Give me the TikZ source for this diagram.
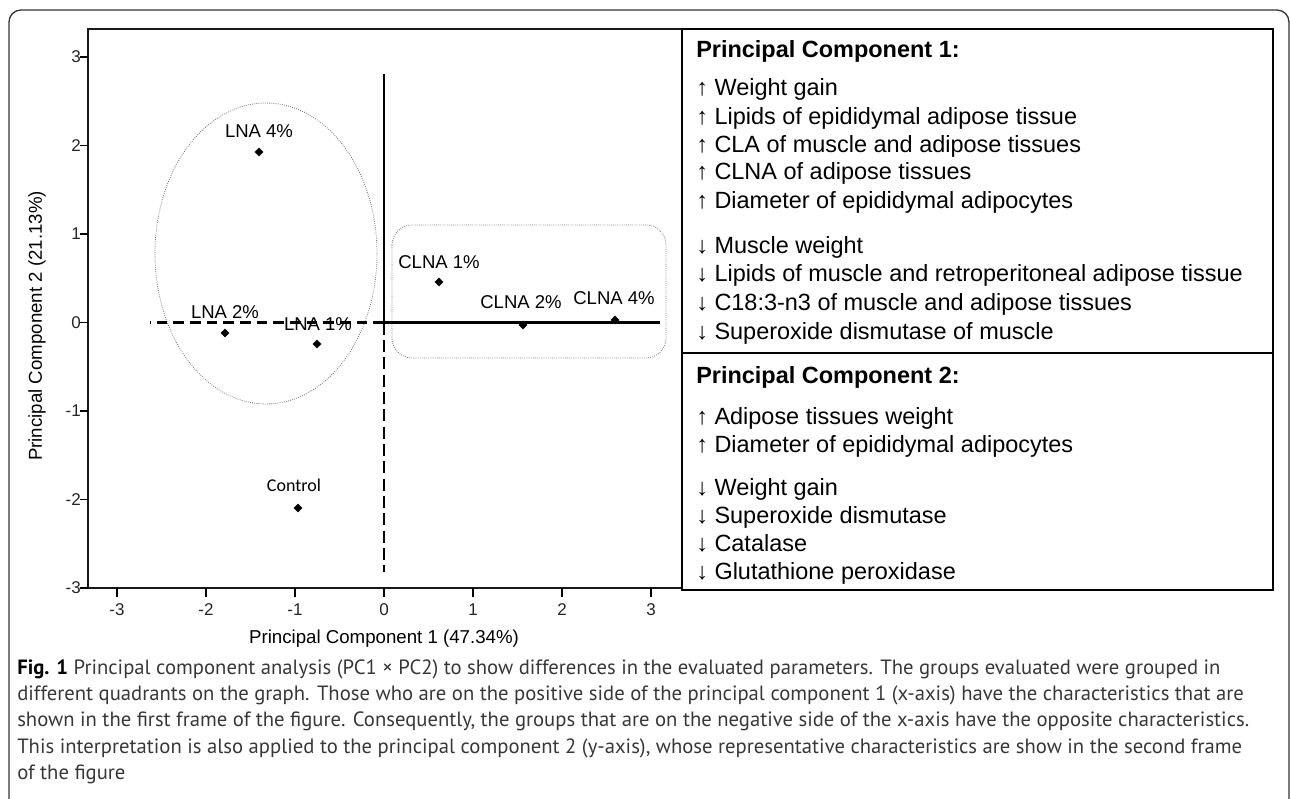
\documentclass[tikz,border=0pt]{standalone}
\usepackage{fontspec}
\setmainfont{Liberation Sans}
\newfontfamily\capfont{PT Sans}
\newfontfamily\ctrlfont{Carlito}
\usetikzlibrary{shapes.geometric}

\begin{document}
\begin{tikzpicture}[x=0.75pt,y=0.75pt,yscale=-1,xscale=1,
  pt/.style={diamond,fill=black,inner sep=0pt,minimum size=6.8pt},
  lbl/.style={inner sep=0pt,font=\fontsize{13.9}{15}\selectfont},
  ticklbl/.style={inner sep=0pt,text=black!85,font=\fontsize{12.75}{14}\selectfont},
  axtitle/.style={inner sep=0pt,font=\fontsize{14}{16}\selectfont},
  item/.style={anchor=base west,inner sep=0pt,font=\fontsize{17.6}{20}\selectfont},
  head/.style={anchor=base west,inner sep=0pt,font=\fontsize{17.6}{20}\selectfont\bfseries},
  capline/.style={anchor=base west,inner sep=0pt,text=black!78,font=\capfont\fontsize{15.5}{18}\selectfont},
  group/.style={draw=black!55,densely dotted,line width=0.6pt},
  crossline/.style={line width=1.8pt}]
\useasboundingbox (0,0) rectangle (1290,799);

%Shape: Outer frame
\draw [color=black!80, line width=1pt] (9,805) -- (9,22) arc (180:270:12) -- (1277,10) arc (270:360:12) -- (1289,805);

%Shape: Plot frame
\draw [line width=1.5pt, color=black!90] (88,29) rectangle (682,588);
%Shape: Legend box
\draw [line width=1.9pt] (682,29) rectangle (1273,590);
\draw [line width=1.9pt] (682,353) -- (1273,353);

% Ticks
\foreach \v in {-3,...,3} {
  \draw [line width=1pt] (80,322.5-88.5*\v) -- (88,322.5-88.5*\v);
  \node [ticklbl, anchor=east] at (81,322.5-88.5*\v) {\v};
  \draw [line width=1pt] (384+89*\v,588) -- (384+89*\v,597);
  \node [ticklbl] at (384+89*\v,610) {\v};
}

% Axis titles
\node [axtitle] (xtitle) at (384,639) {Principal Component 1 (47.34\%)};
\node [axtitle, rotate=90] (ytitle) at (37,326) {Principal Component 2 (21.13\%)};

%Shape: Groups
\draw [group] (266,253.5) ellipse (111 and 150.5);
\draw [group, rounded corners=15pt] (392,225) rectangle (666,358);

% Text Node
\node [lbl] (lna4l) at (259,131) {LNA 4\%};
\node [lbl] (lna2l) at (225,312) {LNA 2\%};
\node [lbl] (lna1l) at (318,324) {LNA 1\%};
\node [lbl, font=\ctrlfont\fontsize{13.5}{15}\selectfont] (ctrll) at (294,485) {Control};
\node [lbl] (clna1l) at (439,262) {CLNA 1\%};
\node [lbl] (clna2l) at (521,302) {CLNA 2\%};
\node [lbl] (clna4l) at (614,298) {CLNA 4\%};

%Straight Lines: origin cross
\coordinate (O) at (384,322.5);
\coordinate (yTop) at (384,74);
\coordinate (yBot) at (384,572);
\coordinate (xLeft) at (150,322.5);
\coordinate (xRight) at (660,322.5);
\draw [crossline] (yTop) -- (O) -- (xRight);
\draw [crossline, dash pattern=on 8pt off 4.5pt] (O) -- (xLeft);
\draw [crossline, dash pattern=on 9pt off 4pt] (O) -- (yBot);

%Shape: Points
\node [pt] (lna4) at (259,152) {};
\node [pt] (lna2) at (225,333) {};
\node [pt] (lna1) at (317,344) {};
\node [pt] (ctrl) at (298,508) {};
\node [pt] (clna1) at (439,282) {};
\node [pt] (clna2) at (523,325) {};
\node [pt] (clna4) at (615,320) {};

% Text Node: component 1
\node [head] (pc1) at (696,58) {Principal Component 1:};
\node [item] (pc1a) at (696,96) {↑ Weight gain};
\node [item] (pc1b) at (696,124) {↑ Lipids of epididymal adipose tissue};
\node [item] (pc1c) at (696,152) {↑ CLA of muscle and adipose tissues};
\node [item] (pc1d) at (696,180) {↑ CLNA of adipose tissues};
\node [item] (pc1e) at (696,208) {↑ Diameter of epididymal adipocytes};
\node [item] (pc1f) at (696,253) {↓ Muscle weight};
\node [item] (pc1g) at (696,281) {↓ Lipids of muscle and retroperitoneal adipose tissue};
\node [item] (pc1h) at (696,310) {↓ C18:3-n3 of muscle and adipose tissues};
\node [item] (pc1i) at (696,339) {↓ Superoxide dismutase of muscle};
% Text Node: component 2
\node [head] (pc2) at (696,383) {Principal Component 2:};
\node [item] (pc2a) at (696,424) {↑ Adipose tissues weight};
\node [item] (pc2b) at (696,452) {↑ Diameter of epididymal adipocytes};
\node [item] (pc2c) at (696,495) {↓ Weight gain};
\node [item] (pc2d) at (696,523) {↓ Superoxide dismutase};
\node [item] (pc2e) at (696,551) {↓ Catalase};
\node [item] (pc2f) at (696,579) {↓ Glutathione peroxidase};

% Caption
\node [capline] (cap1) at (17,674) {\textcolor{black}{\bfseries Fig. 1} Principal component analysis (PC1 × PC2) to show differences in the evaluated parameters. The groups evaluated were grouped in};
\node [capline] (cap2) at (17,700) {different quadrants on the graph. Those who are on the positive side of the principal component 1 (x-axis) have the characteristics that are};
\node [capline] (cap3) at (17,726) {shown in the first frame of the figure. Consequently, the groups that are on the negative side of the x-axis have the opposite characteristics.};
\node [capline] (cap4) at (17,753) {This interpretation is also applied to the principal component 2 (y-axis), whose representative characteristics are show in the second frame};
\node [capline] (cap5) at (17,779) {of the figure};

\end{tikzpicture}
\end{document}
